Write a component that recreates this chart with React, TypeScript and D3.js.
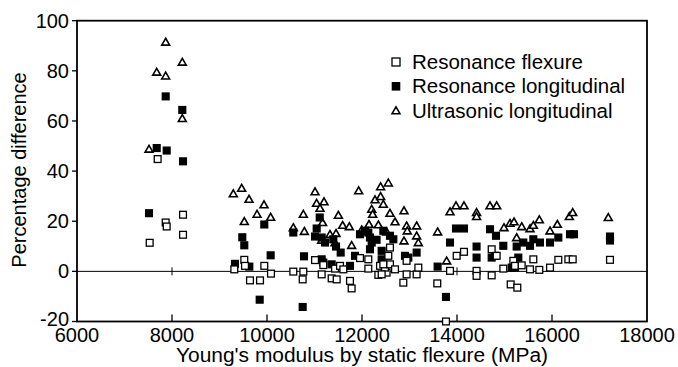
import React from "react";
import * as d3 from "d3";

type P = [number, number];

const flexure: P[] = [
  [7530, 11.4], [7698, 44.8], [7867, 19.5], [7888, 17.9], [8232, 22.6], [8232, 14.6],
  [9312, 0.8], [9522, 4.6], [9537, 2.2], [9642, -3.6], [9853, -3.6], [9943, 2.2], [10084, -0.9],
  [10554, -0.1], [10765, -0.1], [10751, -3.2],
  [11011, 4.5], [11186, 2.5], [11151, -1.2], [11361, -2.8], [11467, -3.2], [11432, 1.1], [11537, 2.2],
  [11607, 0.8], [11747, -3.8], [11782, -6.8], [11958, 5.3], [12133, 4.8], [12133, 1.1], [12344, -1.4],
  [12379, 2.2], [12518, -0.5], [12484, 1.5], [12589, 2.8], [12554, 6.2], [12589, 9.5], [12695, 0.8],
  [12449, 2.8], [12414, -1.2],
  [12939, 4.2], [12939, -1.2], [12870, -4.5], [13150, -1.2], [13186, 1.5],
  [13585, -4.8], [13768, -20], [13853, 0.2], [13993, 6.2], [14147, 7.8],
  [14412, 0.2], [14412, -1.8], [14730, 8.8], [14835, 6.2], [14730, -1.6],
  [14975, 1.1], [15186, 4.2], [15221, 2.2], [15362, 2.4], [15537, 0.8], [15607, 4.8], [15733, 0.6],
  [15958, 1.5], [16133, 4.6], [16344, 4.8], [16436, 4.8], [17221, 4.6], [15130, -5.2], [15270, -6.5],
];

const longitudinal: P[] = [
  [7516, 23.2], [7678, 49.2], [7888, 48.2], [7867, 69.8], [8232, 43.9], [8217, 64.4],
  [9326, 3], [9480, 13.6], [9522, 10.4], [9628, 1.9], [9943, 18.7], [10077, 6.4], [9846, -11.3],
  [10554, 15.5], [10779, 6], [10751, -14.2],
  [11110, 21.5], [11046, 17.1], [11011, 13.9], [11151, 13.5], [11221, 11.5], [11396, 12.8], [11453, 9.9],
  [11551, 7.5], [11747, 2.2], [11853, 6.2], [11958, 14.8], [12063, 16.2], [12168, 13.5], [12204, 11.5],
  [12307, 12.6], [12414, 8.2], [12414, 4.8], [11151, 4.8], [11361, 2.8], [11186, 3.5], [12168, 8.8],
  [12133, 15.5], [12449, 16.2], [12589, 14.2], [12660, 12.8], [12905, 6.2], [12975, 5.5], [13150, 7.5],
  [13592, 1.9], [13768, -10.2], [13853, 11.5], [13979, 17.1], [14147, 17.1], [14412, 9.9], [14412, 5.5],
  [14695, 16.8], [14821, 14.2], [14730, 5.5], [14800, 6.2],
  [14975, 10.2], [15256, 9.9], [15396, 11.5], [15537, 10.2], [15607, 12.8], [15747, 11.5], [15958, 11.5],
  [16133, 13.5], [16379, 14.8], [16463, 14.8], [17221, 13.9], [17221, 12.3], [15291, 5.5], [15151, 1.5],
  [15221, 1.5],
];

const ultrasonic: P[] = [
  [7516, 48.8], [7678, 79.5], [7867, 91.5], [7867, 78], [8217, 83.5], [8217, 61],
  [9291, 31], [9467, 33.2], [9622, 28.8], [9522, 19.9], [9790, 22.8], [9937, 26.6], [10077, 21.6],
  [10554, 17.5], [10765, 22.8], [10786, 16],
  [11011, 31.8], [11044, 27.2], [11200, 27.8], [11116, 25.2], [11170, 19.5], [11503, 22.4], [11592, 18.4],
  [11733, 17.9], [11326, 14.8], [11453, 15.2], [11930, 32.2], [12204, 24.8], [12225, 22.8], [12274, 28.6],
  [12392, 29.9], [12392, 33.8], [12554, 35.3], [12449, 26.8], [12589, 23.2], [12695, 19.8], [11993, 16.6],
  [12147, 18.8], [12344, 18.6], [12518, 15.8], [11782, 10.4], [11432, 11.5], [11151, 12.5],
  [12884, 24.2], [12939, 18.2], [12953, 16.2], [13150, 18.2], [13150, 14.2], [13186, 11.5], [12884, 12.2],
  [13592, 15.8], [13782, 4.2], [13853, 23.8], [13979, 26.2], [14147, 26.2], [14412, 23.5], [14412, 21.9],
  [14695, 26.2], [14835, 26.2],
  [14989, 17.5], [15116, 19.2], [15200, 19.8], [15362, 17.9], [15537, 17.1], [15607, 18.4], [15733, 20.6],
  [15958, 16.2], [16112, 18.8], [16365, 21.9], [16436, 23.5], [17185, 21.5], [15256, 13.5],
];

const xTicks = [6000, 8000, 10000, 12000, 14000, 16000, 18000];
const yTicks = [-20, 0, 20, 40, 60, 80, 100];
const zeroCrosses = [8000, 14000];
const legendItems = ["Resonance flexure", "Resonance longitudinal", "Ultrasonic longitudinal"];
const xTitle = "Young's modulus by static flexure (MPa)";
const yTitle = "Percentage difference";

const W = 678;
const H = 367;
const FONT = "'Liberation Sans', Arial, Helvetica, sans-serif";

export default function App() {
  const x = d3.scaleLinear().domain([6000, 18000]).range([77, 647]);
  const y = d3.scaleLinear().domain([-20, 100]).range([321.5, 20.7]);
  const tri = d3.symbol().type(d3.symbolTriangle).size(27)() as string;
  const sq = 6.8;

  const renderSquare = (p: P, i: number, filled: boolean) => (
    <rect
      key={i}
      x={x(p[0]) - sq / 2}
      y={y(p[1]) - sq / 2}
      width={sq}
      height={sq}
      fill={filled ? "#000" : "#fff"}
      stroke="#000"
      strokeWidth={1.3}
    />
  );
  const renderTri = (p: P, i: number) => (
    <path
      key={i}
      d={tri}
      transform={`translate(${x(p[0])},${y(p[1]) + 0.8})`}
      fill="#fff"
      stroke="#000"
      strokeWidth={1.6}
    />
  );

  const [x0, x1] = x.range();
  const [yb, yt] = y.range();

  return (
    <svg
      width={W}
      height={H}
      style={{ position: "absolute", left: 0, top: 0, background: "#fff" }}
      fontFamily={FONT}
    >
      <rect x={0} y={0} width={W} height={H} fill="#fff" />
      {/* zero line */}
      <line x1={x0} x2={x1} y1={y(0)} y2={y(0)} stroke="#000" strokeWidth={1} />
      {zeroCrosses.map((v) => (
        <line key={v} x1={x(v)} x2={x(v)} y1={y(0) - 4} y2={y(0) + 4} stroke="#000" strokeWidth={1} />
      ))}
      {/* frame */}
      <rect x={x0} y={yt} width={x1 - x0} height={yb - yt} fill="none" stroke="#000" strokeWidth={1.8} />
      {/* y ticks */}
      {yTicks.map((t) => (
        <g key={t}>
          <line x1={x0 - 5} x2={x0} y1={y(t)} y2={y(t)} stroke="#000" strokeWidth={1.3} />
          <text x={69} y={y(t) - (t === -20 ? 3 : 0)} dy="0.35em" textAnchor="end" fontSize={20}>
            {t}
          </text>
        </g>
      ))}
      {/* x ticks */}
      {xTicks.map((t) => (
        <g key={t}>
          {t !== 6000 && t !== 18000 && (
            <line x1={x(t)} x2={x(t)} y1={yb} y2={yb - 7} stroke="#000" strokeWidth={1.3} />
          )}
          <text x={x(t)} y={342} textAnchor="middle" fontSize={20}>
            {t}
          </text>
        </g>
      ))}
      <text x={362} y={362} textAnchor="middle" fontSize={20} textLength={372} lengthAdjust="spacingAndGlyphs">
        {xTitle}
      </text>
      <text transform="translate(26,170) rotate(-90)" textAnchor="middle" fontSize={20}>
        {yTitle}
      </text>
      {/* data */}
      <g>{ultrasonic.map((p, i) => renderTri(p, i))}</g>
      <g>{longitudinal.map((p, i) => renderSquare(p, i, true))}</g>
      <g>{flexure.map((p, i) => renderSquare(p, i, false))}</g>
      {/* legend */}
      {legendItems.map((label, i) => {
        const ly = 62 + i * 24.3;
        const sx = 396;
        return (
          <g key={label}>
            {i === 0 && (
              <rect x={sx - 4} y={ly - 4} width={8} height={8} fill="#fff" stroke="#000" strokeWidth={1.3} />
            )}
            {i === 1 && <rect x={sx - 4.3} y={ly - 4.3} width={8.6} height={8.6} fill="#000" />}
            {i === 2 && (
              <path d={tri} transform={`translate(${sx},${ly + 0.8})`} fill="#fff" stroke="#000" strokeWidth={1.6} />
            )}
            <text x={412} y={ly} dy="0.35em" fontSize={20.5}>
              {label}
            </text>
          </g>
        );
      })}
    </svg>
  );
}
